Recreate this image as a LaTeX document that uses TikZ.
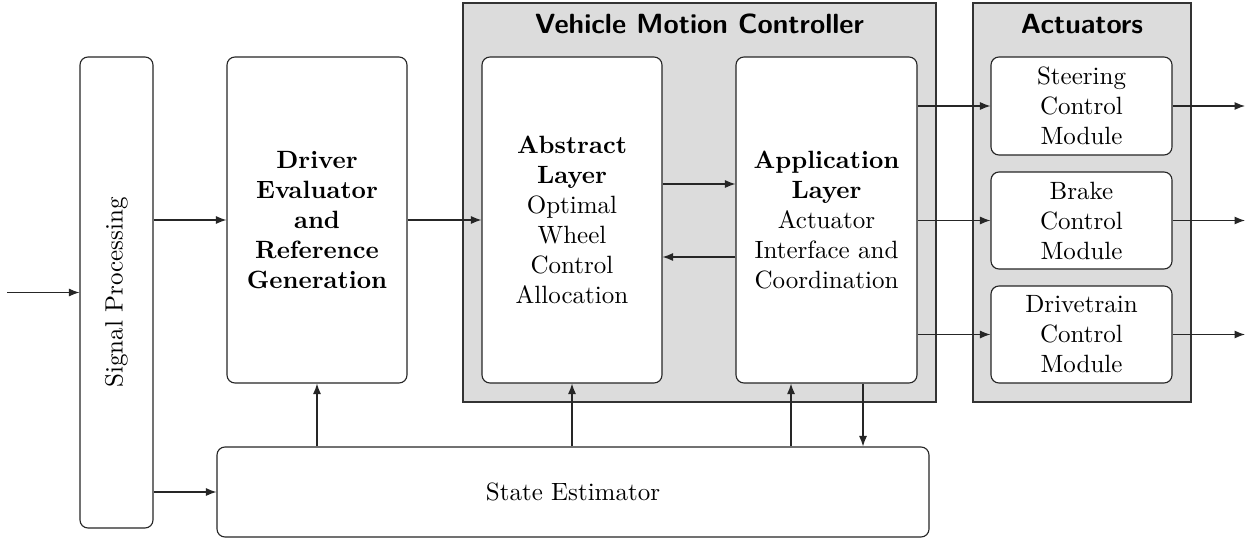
\documentclass[tikz,border=0pt]{standalone}
\usetikzlibrary{arrows.meta}
\definecolor{panelgray}{RGB}{220,220,220}
\begin{document}
\begin{tikzpicture}[x=0.4pt,y=-0.4pt,
  box/.style={draw=black!85, rounded corners=3.2pt, fill=white, align=center, inner sep=2pt, line width=0.45pt},
  panel/.style={draw=black!80, fill=panelgray, line width=0.6pt},
  ttl/.style={font=\fontsize{11.1}{13}\selectfont\sffamily\bfseries, inner sep=0pt},
  arr/.style={-{Latex[length=4.2pt,width=3.2pt]}, line width=0.45pt, draw=black!85}]
\useasboundingbox (0,0) rectangle (1250,539);
% panels
\node[panel, minimum width=189.2pt, minimum height=159.6pt] (vmc) at (699.5,202.5) {};
\node[ttl] (vmct) at (699.5,24) {Vehicle Motion Controller};
\node[panel, minimum width=87.2pt, minimum height=159.6pt] (act) at (1082,202.5) {};
\node[ttl] (actt) at (1082,24) {Actuators};
% boxes
\node[box, minimum width=29.2pt, minimum height=188.4pt] (sig) at (116.5,292.5) {};
\node[rotate=90, inner sep=0pt] (sigt) at (sig) {Signal Processing};
\node[box, minimum width=72pt, minimum height=130.4pt] (drv) at (317,220) {\textbf{Driver}\\\textbf{Evaluator}\\\textbf{and}\\\textbf{Reference}\\\textbf{Generation}};
\node[box, minimum width=72pt, minimum height=130.4pt] (abs) at (572,220) {\textbf{Abstract}\\\textbf{Layer}\\Optimal\\Wheel\\Control\\Allocation};
\node[box, minimum width=72.4pt, minimum height=130.4pt] (app) at (826.5,220) {\textbf{Application}\\\textbf{Layer}\\Actuator\\Interface and\\Coordination};
\node[box, minimum width=72.4pt, minimum height=39.2pt] (steer) at (1081.5,106) {Steering\\Control\\Module};
\node[box, minimum width=72.4pt, minimum height=38.8pt] (brake) at (1081.5,220.5) {Brake\\Control\\Module};
\node[box, minimum width=72.4pt, minimum height=38.8pt] (drive) at (1081.5,334.5) {Drivetrain\\Control\\Module};
\node[box, minimum width=284.8pt, minimum height=36pt] (state) at (573,492) {State Estimator};
% coordinates
\coordinate (inpt) at (7,292.5);
\coordinate (yA) at (0,184);
\coordinate (yB) at (0,257);
\coordinate (xup) at (791,0);
\coordinate (xdn) at (863,0);
\coordinate (xout) at (1245,0);
% connectors
\draw[arr] (inpt) -- (sig.west);
\draw[arr] (sig.east |- drv) -- (drv.west);
\draw[arr] (sig.east |- state) -- (state.west);
\draw[arr] (drv.east) -- (abs.west);
\draw[arr] (abs.east |- yA) -- (app.west |- yA);
\draw[arr] (app.west |- yB) -- (abs.east |- yB);
\draw[arr] (app.east |- steer) -- (steer.west);
\draw[arr] (app.east |- brake) -- (brake.west);
\draw[arr] (app.east |- drive) -- (drive.west);
\draw[arr] (steer.east) -- (steer.east -| xout);
\draw[arr] (brake.east) -- (brake.east -| xout);
\draw[arr] (drive.east) -- (drive.east -| xout);
\draw[arr] (state.north -| drv) -- (drv.south);
\draw[arr] (state.north -| abs) -- (abs.south);
\draw[arr] (state.north -| xup) -- (app.south -| xup);
\draw[arr] (app.south -| xdn) -- (state.north -| xdn);
\end{tikzpicture}
\end{document}
